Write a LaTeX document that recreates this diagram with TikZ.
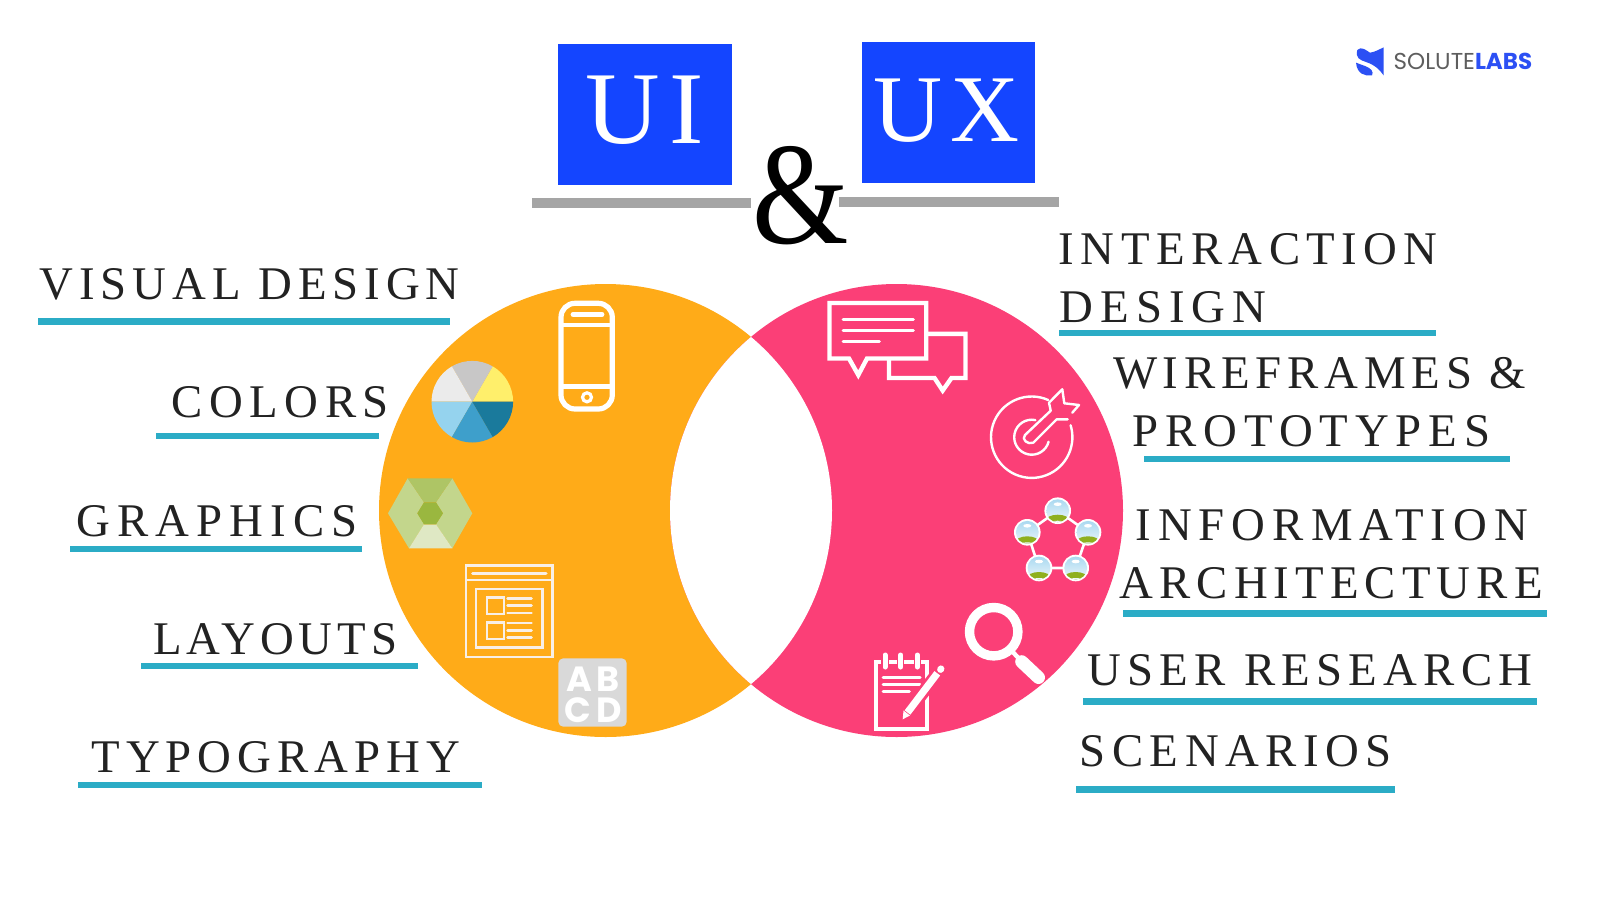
\documentclass[tikz,border=0pt]{standalone}
\usepackage{fontspec}
\usepackage{xcolor}
\usetikzlibrary{calc}
\newfontfamily\labelfont{Liberation Serif}
\newfontfamily\headfont[LetterSpace=9]{Liberation Serif}
\newfontfamily\plainfont{Liberation Serif}
\newfontfamily\logofont{Poppins}
\newfontfamily\tilefont[LetterSpace=14]{Poppins}
\definecolor{Brand}{HTML}{1445FF}
\definecolor{Amber}{HTML}{FFAB18}
\definecolor{Rose}{HTML}{FB3F77}
\definecolor{Teal}{HTML}{2BACC6}
\definecolor{Bar}{HTML}{A5A5A5}
\definecolor{Ink}{HTML}{222222}
\definecolor{LogoBlue}{HTML}{2C50F4}
\definecolor{LogoGrey}{HTML}{5E5E5E}
\definecolor{Paper}{HTML}{F8EFE6}
\definecolor{Tile}{HTML}{D9D9D9}
\definecolor{HexSide}{HTML}{C3D68C}
\definecolor{HexTop}{HTML}{AEC565}
\definecolor{HexLow}{HTML}{DFE8C4}
\definecolor{HexCore}{HTML}{9AB73F}
\definecolor{SkyTop}{HTML}{A8D8F0}
\definecolor{SkyLow}{HTML}{EEF7FB}
\definecolor{Hill}{HTML}{8FB01E}
\tikzset{
  tag/.style={anchor=base,inner sep=0pt,text=Ink,font=\labelfont\fontsize{23.4}{28}\selectfont},
  head/.style={anchor=base,inner sep=0pt,text=white},
  icon/.style={draw=white,line width=2.6pt,line join=round},
  thin icon/.style={draw=Paper,line width=1.25pt},
  pad/.style={draw=white,line width=1.5pt,line cap=round}
}
\begin{document}
\begin{tikzpicture}[x=0.5pt,y=-0.5pt]
\useasboundingbox (0,0) rectangle (1600,900);
\fill[white] (0,0) rectangle (1600,900);
% Title boxes
\fill[Brand] (558,44) rectangle (731.5,184.7);
\fill[Brand] (862,41.8) rectangle (1035,182.7);
\node[head,font=\headfont\fontsize{51.6}{60}\selectfont] (ui) at (645,143.3) {UI};
\node[head,font=\headfont\fontsize{47.8}{56}\selectfont] (ux) at (946.5,141.7) {UX};
\fill[Bar] (531.5,198) rectangle (751,208);
\fill[Bar] (839,197) rectangle (1058.5,207);
\node[anchor=base,inner sep=0pt,font=\plainfont\fontsize{73}{80}\selectfont] (amp) at (801,243) {\scalebox{0.85}[1]{\&}};
% Logo
\fill[LogoBlue] (1357.3,50) .. controls (1361,46) and (1366,50) .. (1370,52.7) .. controls (1375,52) and (1380,49) .. (1383.7,47.3) -- (1383.7,75.5) .. controls (1380,70) and (1375,65) .. (1366,62) .. controls (1360,60) and (1355,58) .. (1357.3,50) -- cycle;
\fill[LogoBlue] (1356,62.7) -- (1365,66) .. controls (1371,68) and (1374,72) .. (1372,75.3) .. controls (1365,76.5) and (1357,74) .. (1356,62.7) -- cycle;
\node[anchor=base west,inner sep=0pt,font=\logofont\fontsize{11.5}{13}\selectfont] (logo) at (1393.3,69) {\textcolor{LogoGrey}{SOLUTE}\textcolor{LogoBlue}{\bfseries LABS}};
% Circles
\fill[Amber] (605.5,510.5) circle [radius=226.5];
\fill[Rose] (896.5,510.5) circle [radius=226.5];
\begin{scope}
\clip (605.5,510.5) circle [radius=226.5];
\fill[white] (896.5,510.5) circle [radius=226.5];
\end{scope}
% Left labels
\foreach \id/\xa/\ya/\track/\txt in {visual/249.6/299.3/12.7/VISUAL DESIGN,colors/280.2/417.3/14/COLORS,graphics/217/536/15/GRAPHICS,layouts/275.3/654.3/10.7/LAYOUTS,typo/275.8/772.7/12.8/TYPOGRAPHY}
  \node[tag] (\id) at (\xa,\ya) {\addfontfeature{LetterSpace=\track}\txt};
% Right labels
\foreach \id/\xa/\ya/\track/\txt in {inter/1248.3/264.3/13.7/INTERACTION,idesign/1163/322.3/15/DESIGN,wire/1319.5/388.3/12.4/WIREFRAMES \&,proto/1311.6/446.7/14.7/PROTOTYPES,info/1331.8/540/15/INFORMATION,arch/1331.1/598.3/13/ARCHITECTURE,user/1310/685/13.4/USER RESEARCH,scen/1235.8/766.7/14/SCENARIOS}
  \node[tag] (\id) at (\xa,\ya) {\addfontfeature{LetterSpace=\track}\txt};
% Underlines
\foreach \xa/\ya/\xb/\yb in {37.7/318.3/450/325,156.3/433.3/379/439,70/546/362.3/551.7,141.3/663/417.7/669,77.7/782.3/481.7/788.3,1058.7/330/1436/335.7,1144.3/455.7/1510/461.7,1123.3/610/1546.7/617.3,1083/698/1536.7/705,1076/785.7/1395/792.7}
  \fill[Teal] (\xa,\ya) rectangle (\xb,\yb);
% Phone
\draw[icon,rounded corners=7pt] (561,303.3) rectangle (612.3,409);
\draw[white,line width=2.4pt] (561,325) -- (612.3,325);
\draw[white,line width=2.4pt] (561,386.7) -- (612.3,386.7);
\draw[white,line width=2.4pt,line cap=round] (573,314.3) -- (602,314.3);
\draw[white,line width=1.6pt] (587,397.3) circle [radius=4.5];
% Colour wheel
\foreach \a/\col in {0/FFEF6B,60/C8C7C7,120/EBEBEB,180/95D3EE,240/3E9FCB,300/1A7A9C}{
  \definecolor{Wedge}{HTML}{\col}
  \fill[Wedge] (472.3,401.7) -- ++(-\a:40.8) arc [start angle=-\a,delta angle=-60,radius=40.8] -- cycle;
}
% Hexagon
\fill[HexSide] (407.7,478.3) -- (388,513.3) -- (409,548.3) -- (424,524.3) -- (417.3,513.3) -- (424,502.3) -- cycle;
\fill[HexSide] (452.3,478.3) -- (472.3,513.3) -- (452.3,548.3) -- (436,524.3) -- (443,513.3) -- (436,502.3) -- cycle;
\fill[HexTop] (407.7,478.3) -- (452.3,478.3) -- (436,502.3) -- (424,502.3) -- cycle;
\fill[HexLow] (409,548.3) -- (452.3,548.3) -- (436,524.3) -- (424,524.3) -- cycle;
\fill[HexCore] (417.3,513.3) -- (424,502.3) -- (436,502.3) -- (443,513.3) -- (436,524.3) -- (424,524.3) -- cycle;
% Layout sheet
\draw[thin icon] (466,565.5) rectangle (552.5,657);
\draw[thin icon] (466,580) -- (552.5,580);
\draw[thin icon,line width=1.5pt,line cap=round] (472.5,573.3) -- (546,573.3);
\draw[thin icon] (476,589) rectangle (542.7,647.3);
\foreach \ya in {597.7,622.3}{
  \draw[thin icon] (487,\ya) rectangle (504,\ya+16.5);
  \foreach \k in {0.7,8,15.4}
    \draw[thin icon,line cap=round] (507.5,\ya+\k) -- (531.5,\ya+\k);
}
% Letter tile
\fill[Tile,rounded corners=2.5pt] (558.3,658.3) rectangle (626.7,726.7);
\node[anchor=base,inner sep=0pt,text=white,align=center,font=\tilefont\bfseries\fontsize{17.5}{15.5}\selectfont] (abcd) at (593,722) {AB\\CD};
% Chat bubbles
\draw[white,line width=2.2pt,line join=miter] (928,333.8) -- (965.5,333.8) -- (965.5,378) -- (951.5,378) -- (942.7,390.5) -- (934.5,378) -- (889,378) -- (889,358.5);
\draw[white,line width=2.2pt,line join=miter] (829.5,303) -- (926.2,303) -- (926.2,358.5) -- (867,358.5) -- (858.3,375) -- (849,358.5) -- (829.5,358.5) -- cycle;
\foreach \xb/\ya in {913.3/319.7,913.3/330,879.3/341.7}
  \draw[white,line width=1.5pt,line cap=round] (843,\ya) -- (\xb,\ya);
% Target
\draw[white,line width=1.2pt,line cap=round] (1031.7,437.2) ++(-66:40.7) arc [start angle=-66,end angle=-377,radius=40.7];
\draw[white,line width=1.2pt,line cap=round] (1031.7,437.2) ++(-78:17.5) arc [start angle=-78,end angle=-345,radius=17.5];
\draw[white,line width=1.2pt,line cap=round,line join=round] (1072.3,412.7) -- (1079,405) -- (1064.3,403.3) -- (1062.3,389.3) -- (1049,402.7) -- (1050.7,410.7) -- (1025,435) .. controls (1021,439.3) and (1027.7,445) .. (1033.3,442.7) -- (1056.7,419.3) -- (1067.7,419.3);
% Network
\foreach \id/\xa/\ya in {na/1057.7/510.7,nb/1088/532.3,nc/1075.7/568,nd/1039/568,ne/1027.3/532.3}
  \coordinate (\id) at (\xa,\ya);
\draw[white,line width=1.3pt] (na) -- (nb) -- (nc) -- (nd) -- (ne) -- (na);
\foreach \id in {na,nb,nc,nd,ne}{
  \fill[white] (\id) circle [radius=13.3];
  \begin{scope}
  \clip (\id) circle [radius=11.4];
  \shade[top color=SkyTop,bottom color=SkyLow] ($(\id)+(-12,-12)$) rectangle ($(\id)+(12,12)$);
  \fill[Hill] ($(\id)+(0,10)$) ellipse [x radius=12,y radius=6];
  \fill[SkyLow] ($(\id)+(0,15)$) ellipse [x radius=12,y radius=5];
  \fill[white] ($(\id)+(0,-6.5)$) ellipse [x radius=4,y radius=1.8];
  \end{scope}
}
% Magnifier
\draw[white,line width=4.7pt] (993.7,631.7) circle [radius=24.2];
\draw[white,line width=2.2pt] (1011,650) -- (1022,662);
\draw[white,line width=6.5pt,line cap=round] (1021.7,661.7) -- (1038.5,677.5);
% Notepad
\draw[white,line width=2pt] (875.5,662) rectangle (927,729);
\foreach \k in {677.3,684}
  \draw[pad] (883,\k) -- (920,\k);
\draw[pad] (883,691.3) -- (909.3,691.3);
\foreach \xa in {885,900.7,917.3}{
  \draw[Rose,line width=3.6pt] (\xa,655) -- (\xa,668.3);
  \draw[white,line width=2.5pt,line cap=round] (\xa,655) -- (\xa,667);
}
\draw[Rose,line width=6.5pt] (941,669) -- (904,717);
\draw[white,line width=3.6pt] (937.3,673.3) -- (907.5,712.5);
\draw[white,line width=3.4pt,line cap=round] (940.5,669.5) -- (941,668.8);
\fill[white] (902.7,719.3) -- (903.5,710.5) -- (910,715.5) -- cycle;
\end{tikzpicture}
\end{document}
